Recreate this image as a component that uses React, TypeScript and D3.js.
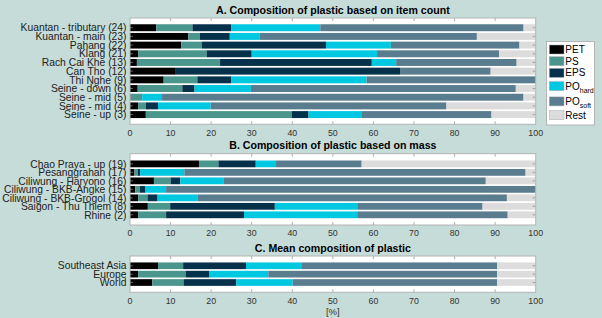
import React from 'react';
import * as d3 from 'd3';

// series (legend order)
const seriesKeys = ['PET', 'PS', 'EPS', 'POhard', 'POsoft', 'Rest'];
const seriesColors = ['#000000', '#4a968c', '#06314b', '#00c8e0', '#5a7c8f', '#dcdcdc'];

// A. item count
const countSites = [
  'Kuantan - tributary (24)', 'Kuantan - main (23)', 'Pahang (22)', 'Klang (21)', 'Rach Cai Khe (13)',
  'Can Tho (12)', 'Thi Nghe (9)', 'Seine - down (6)', 'Seine - mid (5)', 'Seine - mid (4)', 'Seine - up (3)',
];
const countPET = [6.5, 14.4, 12.6, 2.0, 1.7, 11.1, 8.3, 1.9, 0, 2.0, 3.9];
const countPS = [8.9, 2.8, 5.1, 16.9, 20.5, 0, 8.3, 11.0, 3.0, 1.9, 36.0];
const countEPS = [9.6, 7.4, 30.6, 11.1, 37.4, 55.6, 8.4, 3.0, 0, 3.0, 4.1];
const countPOhard = [21.9, 7.3, 16.0, 30.9, 6.0, 0, 33.3, 13.9, 4.9, 13.0, 13.0];
const countPOsoft = [50.1, 53.6, 31.7, 30.1, 29.7, 22.2, 41.7, 65.3, 89.1, 58.1, 32.1];
const countRest = [3.0, 14.5, 4.0, 9.0, 4.7, 11.1, 0, 4.9, 3.0, 22.0, 10.9];

// B. mass
const massSites = [
  'Chao Praya - up (19)', 'Pesanggrahan (17)', 'Ciliwung - Haryono (16)', 'Ciliwung - BKB-Angke (15)',
  'Ciliwung - BKB-Grogol (14)', 'Saigon - Thu Thiem (8)', 'Rhine (2)',
];
const massPET = [17.0, 1.1, 5.9, 1.3, 2.0, 4.4, 2.0];
const massPS = [4.8, 0.8, 4.1, 1.1, 2.3, 5.5, 6.9];
const massEPS = [9.2, 0.6, 2.4, 1.3, 2.5, 25.8, 19.2];
const massPOhard = [5.0, 10.9, 10.6, 5.2, 9.8, 20.5, 27.9];
const massPOsoft = [21.1, 84.1, 64.7, 91.1, 76.3, 30.7, 37.1];
const massRest = [42.9, 2.5, 12.3, 0, 7.1, 13.1, 6.9];

// C. mean
const meanRegions = ['Southeast Asia', 'Europe', 'World'];
const meanPET = [6.9, 2.0, 5.5];
const meanPS = [6.2, 11.7, 7.7];
const meanEPS = [15.5, 5.9, 13.0];
const meanPOhard = [13.6, 14.5, 13.9];
const meanPOsoft = [48.3, 56.4, 50.4];
const meanRest = [9.5, 9.5, 9.5];

const xTicks = [0, 10, 20, 30, 40, 50, 60, 70, 80, 90, 100];

const W = 602;
const H = 318;
const FONT = '"Liberation Sans", Arial, Helvetica, sans-serif';
const x = d3.scaleLinear().domain([0, 100]).range([130, 535.7]);

function buildRows(cats: string[], cols: number[][]) {
  return cats.map((c, i) => {
    const row: any = { cat: c };
    seriesKeys.forEach((k, j) => (row[k] = cols[j][i]));
    return row;
  });
}

const panels = [
  {
    title: 'A. Composition of plastic based on item count',
    cats: countSites,
    cols: [countPET, countPS, countEPS, countPOhard, countPOsoft, countRest],
    top: 18, bottom: 124.3, outer: 0.72,
  },
  {
    title: 'B. Composition of plastic based on mass',
    cats: massSites,
    cols: [massPET, massPS, massEPS, massPOhard, massPOsoft, massRest],
    top: 153.7, bottom: 225, outer: 0.8,
  },
  {
    title: 'C. Mean composition of plastic',
    cats: meanRegions,
    cols: [meanPET, meanPS, meanEPS, meanPOhard, meanPOsoft, meanRest],
    top: 256, bottom: 292.3, outer: 0.77,
  },
];

function Panel({ p }: { p: any }) {
  const rows = buildRows(p.cats, p.cols);
  const stacked = d3.stack().keys(seriesKeys)(rows);
  const y = d3.scaleBand().domain(p.cats).range([p.top, p.bottom]).paddingInner(0.2).paddingOuter(p.outer);
  const x0 = x(0), x1 = x(100);
  const cx = (x0 + x1) / 2;
  const tickCol = '#8a8a8a';
  return (
    <g>
      <text x={cx} y={p.top - 4.5} textAnchor="middle" fontSize={10.6} fontWeight="bold" fill="#000">{p.title}</text>
      <rect x={x0} y={p.top} width={x1 - x0} height={p.bottom - p.top} fill="#fff" />
      {stacked.map((s: any, j: number) => (
        <g key={j} fill={seriesColors[j]}>
          {s.map((d: any, i: number) => (
            <rect key={i} x={x(d[0])} y={y(p.cats[i])} width={Math.max(0, x(d[1]) - x(d[0]))} height={y.bandwidth()} />
          ))}
        </g>
      ))}
      {/* ticks inside the box */}
      {xTicks.slice(1, -1).map((t) => (
        <g key={t} stroke={tickCol} strokeWidth={0.7}>
          <line x1={x(t)} x2={x(t)} y1={p.top} y2={p.top + 3} />
          <line x1={x(t)} x2={x(t)} y1={p.bottom} y2={p.bottom - 3} />
        </g>
      ))}
      {p.cats.map((c: string) => {
        const yc = (y(c) as number) + y.bandwidth() / 2;
        return (
          <g key={c} stroke={tickCol} strokeWidth={0.7}>
            <line x1={x0} x2={x0 + 3} y1={yc} y2={yc} />
            <line x1={x1} x2={x1 - 3} y1={yc} y2={yc} />
          </g>
        );
      })}
      <rect x={x0} y={p.top} width={x1 - x0} height={p.bottom - p.top} fill="none" stroke="#b4b4b4" strokeWidth={1} />
      {p.cats.map((c: string) => (
        <text key={c} x={126.5} y={(y(c) as number) + y.bandwidth() / 2} dy="0.36em" textAnchor="end" fontSize={10.3} fill="#222">{c}</text>
      ))}
      {xTicks.map((t) => (
        <text key={t} x={x(t)} y={p.bottom + 11.3} textAnchor="middle" fontSize={8.8} fill="#333">{t}</text>
      ))}
    </g>
  );
}

function Legend() {
  const lx = 546.5;
  const ly = 41.5;
  let cur = ly + 3.5;
  const items = seriesKeys.map((k, j) => {
    const sub = k.startsWith('PO');
    const h = sub ? 15.3 : 11.7;
    const top = sub ? cur + 1.5 : cur;
    cur += h;
    return { k, j, top, sub };
  });
  return (
    <g>
      <rect x={lx} y={ly} width={48} height={83.5} fill="#fff" stroke="#b4b4b4" strokeWidth={1} />
      {items.map(({ k, j, top, sub }) => (
        <g key={k}>
          <rect x={lx + 2.8} y={top} width={14.7} height={9} fill={seriesColors[j]} stroke="#aaa" strokeWidth={0.5} />
          <text x={lx + 18.8} y={top + 8} fontSize={10} fill="#000">
            {sub ? (
              <>
                PO
                <tspan fontSize={7} dy={3}>{k.slice(2)}</tspan>
              </>
            ) : k}
          </text>
        </g>
      ))}
    </g>
  );
}

export default function App() {
  return (
    <svg width={W} height={H} style={{ position: 'absolute', left: 0, top: 0, display: 'block' }} fontFamily={FONT}>
      <rect width={W} height={H} fill="#c6dcd8" />
      {panels.map((p, i) => (
        <Panel key={i} p={p} />
      ))}
      <Legend />
      <text x={(x(0) + x(100)) / 2} y={314.5} textAnchor="middle" fontSize={9.5} fill="#333">[%]</text>
    </svg>
  );
}
